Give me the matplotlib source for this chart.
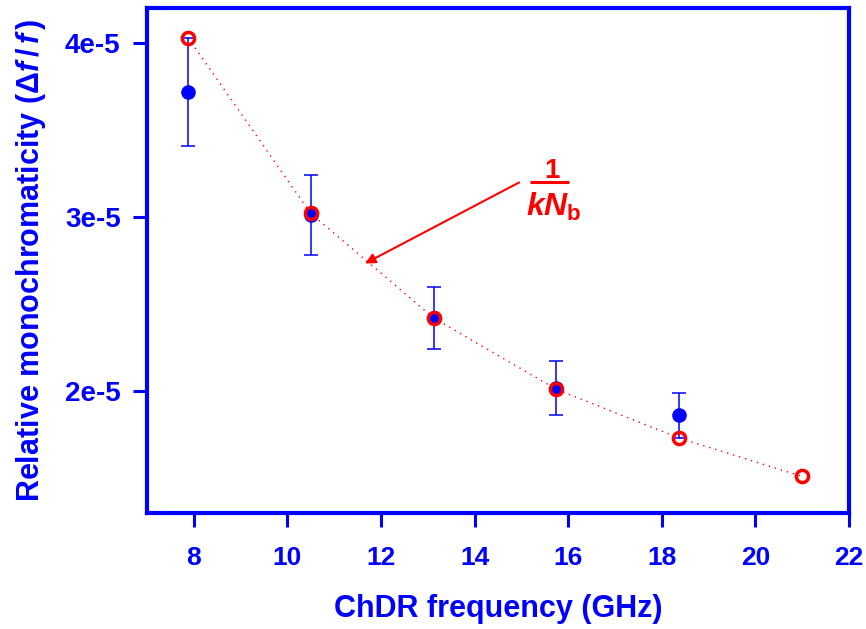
import numpy as np
import matplotlib
matplotlib.use('Agg')
import matplotlib.pyplot as plt

# ChDR frequency (GHz)
freq = [7.875, 10.5, 13.125, 15.75, 18.375]
freq_theory = [7.875, 10.5, 13.125, 15.75, 18.375, 21.0]

# measured relative monochromaticity (units of 1e-5) and its error
meas = [3.72, 3.01, 2.42, 2.02, 1.86]
meas_err = [0.31, 0.23, 0.18, 0.155, 0.13]

# 1/(k*Nb) estimate (units of 1e-5)
theory = [4.03, 3.02, 2.42, 2.01, 1.73, 1.51]

xticks = [8, 10, 12, 14, 16, 18, 20, 22]
yticks = [2e-5, 3e-5, 4e-5]
ytick_labels = ['2e-5', '3e-5', '4e-5']

blue = '#0000ff'
red = '#ff0000'

plt.rcParams['font.family'] = 'Liberation Sans'
plt.rcParams['font.weight'] = 'bold'
plt.rcParams['axes.labelweight'] = 'bold'
plt.rcParams['mathtext.fontset'] = 'custom'
plt.rcParams['mathtext.rm'] = 'Liberation Sans:bold'
plt.rcParams['mathtext.bf'] = 'Liberation Sans:bold'
plt.rcParams['mathtext.it'] = 'Liberation Sans:bold:italic'

fig = plt.figure(figsize=(8.66, 6.29), dpi=100)
ax = fig.add_axes([147/866, 1 - 513/629, (849-147)/866, (513-8)/629])

y_m = np.array(meas) * 1e-5
y_e = np.array(meas_err) * 1e-5
y_t = np.array(theory) * 1e-5

ax.errorbar(freq, y_m, yerr=y_e, fmt='o', color=blue, ms=9.5, mec=blue,
            elinewidth=1.1, capsize=5, capthick=1.1, zorder=3)
ax.plot(freq_theory, y_t, color=red, lw=1.0, ls=(0, (1, 3.5)), zorder=2)
ax.plot(freq_theory, y_t, 'o', mfc='none', mec=red, ms=8.8, mew=2.5, zorder=4)

# arrow + 1/(k Nb) label
ax.annotate('', xy=(11.66, 2.733e-5), xytext=(14.95, 3.198e-5),
            arrowprops=dict(arrowstyle='-|>', color=red, lw=1.5,
                            mutation_scale=15, shrinkA=0, shrinkB=0))
fx, fy = 15.60, 3.198e-5
ax.plot([fx - 0.415, fx + 0.415], [fy, fy], color=red, lw=2.2,
        solid_capstyle='butt')
ax.annotate('1', (fx + 0.05, fy), xytext=(0, 3.5), textcoords='offset points',
            color=red, fontsize=20, ha='center', va='baseline')
ax.annotate(r'$kN_{\mathrm{b}}$', (fx + 0.1, fy), xytext=(0, -6),
            textcoords='offset points', color=red, fontsize=23,
            ha='center', va='top')

ax.set_xlim(7, 22)
ax.set_ylim(1.3e-5, 4.2e-5)
ax.set_xticks(xticks)
ax.set_yticks(yticks)
ax.set_yticklabels(ytick_labels)

for s in ax.spines.values():
    s.set_color(blue)
    s.set_linewidth(3)
ax.tick_params(colors=blue, labelsize=19, width=2.2, length=10, direction='out')
ax.tick_params(axis='y', labelsize=20, pad=9)
ax.tick_params(axis='x', pad=14)

ax.set_xlabel('ChDR frequency (GHz)', color=blue, fontsize=22, labelpad=17)
ax.set_ylabel(r'Relative monochromaticity ($\Delta f\,/\,f\,$)', color=blue,
              fontsize=22, labelpad=12)

fig.savefig('out.png', dpi=100)
